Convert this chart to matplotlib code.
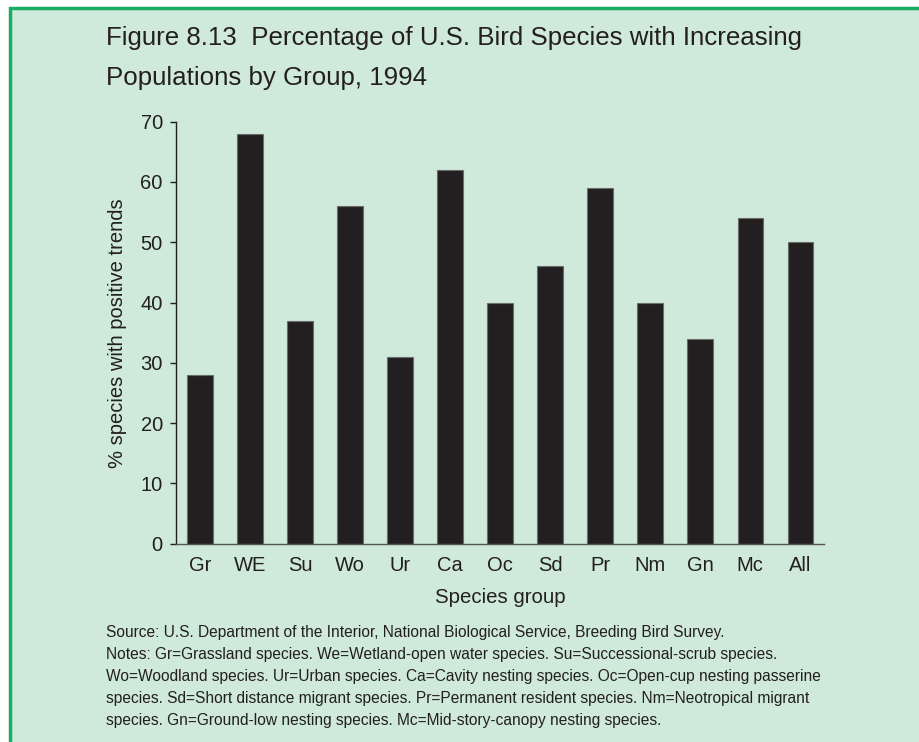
import matplotlib
matplotlib.use("Agg")
import matplotlib.pyplot as plt
from matplotlib.patches import Rectangle

plt.rcParams['font.family'] = ['Liberation Sans', 'DejaVu Sans']

groups = ['Gr', 'WE', 'Su', 'Wo', 'Ur', 'Ca', 'Oc', 'Sd', 'Pr', 'Nm', 'Gn', 'Mc', 'All']
pct_positive = [28, 68, 37, 56, 31, 62, 40, 46, 59, 40, 34, 54, 50]
y_ticks = [0, 10, 20, 30, 40, 50, 60, 70]

title_lines = ["Figure 8.13  Percentage of U.S. Bird Species with Increasing",
               "Populations by Group, 1994"]
notes_lines = [
    "Source: U.S. Department of the Interior, National Biological Service, Breeding Bird Survey.",
    "Notes: Gr=Grassland species. We=Wetland-open water species. Su=Successional-scrub species.",
    "Wo=Woodland species. Ur=Urban species. Ca=Cavity nesting species. Oc=Open-cup nesting passerine",
    "species. Sd=Short distance migrant species. Pr=Permanent resident species. Nm=Neotropical migrant",
    "species. Gn=Ground-low nesting species. Mc=Mid-story-canopy nesting species.",
]

W, H = 920, 742
BG = '#cfe9da'
GREEN = '#1aad62'
INK = '#231f20'

fig = plt.figure(figsize=(W / 100, H / 100), dpi=100)
fig.patch.set_facecolor('white')

# panel with green border on top and left only (rest runs off the figure)
fig.patches.append(Rectangle((10.5 / W, -0.05), 1.2, (H - 8) / H + 0.05,
                             transform=fig.transFigure, facecolor=BG,
                             edgecolor=GREEN, linewidth=2.5, zorder=-10))

# title
for i, line in enumerate(title_lines):
    fig.text(106 / W, 1 - (45 + 40 * i) / H, line, fontsize=18.6, color=INK,
             ha='left', va='baseline')

ax = fig.add_axes([176 / W, (H - 543.7) / H, (824.3 - 176) / W, (543.7 - 121.7) / H])
ax.set_facecolor('none')
x = list(range(len(groups)))
ax.bar(x, pct_positive, width=0.51, color=INK, edgecolor='#6b6b6b', linewidth=0.8, zorder=2)

ax.set_xlim(-0.48, len(groups) - 1 + 0.48)
ax.set_ylim(0, 70)
ax.set_yticks(y_ticks)
ax.set_xticks(x)
ax.set_xticklabels(groups)

for s in ['top', 'right']:
    ax.spines[s].set_visible(False)
ax.spines['left'].set_color(INK)
ax.spines['left'].set_linewidth(1.0)
ax.spines['bottom'].set_color('#555555')
ax.spines['bottom'].set_linewidth(1.0)

ax.tick_params(axis='y', length=4.5, width=1.0, color=INK, labelsize=14.5, labelcolor=INK, pad=5)
ax.tick_params(axis='x', length=0, labelsize=14.5, labelcolor=INK, pad=9)

ax.set_xlabel('Species group', fontsize=14.7, color=INK, labelpad=9)
ax.set_ylabel('% species with positive trends', fontsize=14.5, color=INK, labelpad=10)

for i, line in enumerate(notes_lines):
    fig.text(106 / W, 1 - (637 + 22 * i) / H, line, fontsize=11.2, color=INK,
             ha='left', va='baseline')

fig.savefig('out.png', dpi=100, facecolor=fig.get_facecolor())
